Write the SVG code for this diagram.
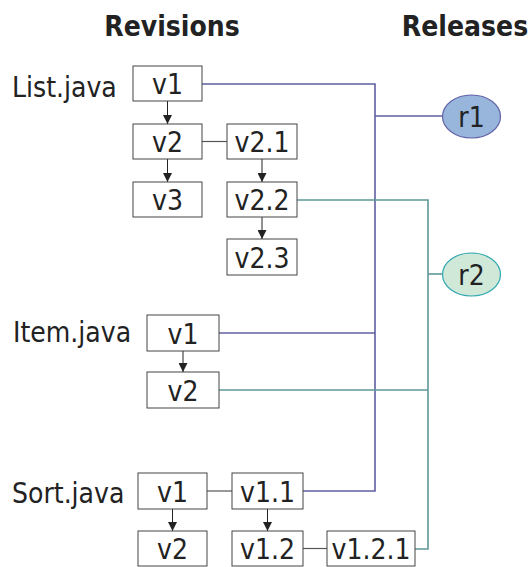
<svg xmlns="http://www.w3.org/2000/svg" width="530" height="567" viewBox="0 0 530 567">
<defs>
<marker id="ah" viewBox="0 0 10 10" refX="10" refY="5" markerWidth="9" markerHeight="9" markerUnits="userSpaceOnUse" orient="auto">
<path d="M0,0 L10,5 L0,10 Z" fill="#222"/>
</marker>
<style>
.box{fill:#fff;stroke:#444;stroke-width:1}
.t{font-family:"DejaVu Sans Condensed","DejaVu Sans",sans-serif;font-stretch:condensed;font-size:28px;fill:#222;text-anchor:middle}
.lbl{font-family:"DejaVu Sans Condensed","DejaVu Sans",sans-serif;font-stretch:condensed;font-size:28px;fill:#222}
.hdr{font-family:"DejaVu Sans Condensed","DejaVu Sans",sans-serif;font-stretch:condensed;font-weight:bold;font-size:28px;fill:#222;text-anchor:middle}
.arr{stroke:#222;stroke-width:1;fill:none;marker-end:url(#ah)}
.gl{stroke:#555;stroke-width:1.2;fill:none}
.pu{stroke:#5f5fa3;stroke-width:1.6;fill:none}
.te{stroke:#5f9898;stroke-width:1.6;fill:none}
</style>
</defs>
<text class="hdr" x="172" y="36">Revisions</text>
<text class="hdr" x="465" y="36">Releases</text>
<text class="lbl" x="12" y="97">List.java</text>
<text class="lbl" x="13" y="342">Item.java</text>
<text class="lbl" x="12" y="503">Sort.java</text>
<g id="connectors">
<polyline class="pu" points="202,84 375,84 375,491 303,491"/>
<line class="pu" x1="219" y1="333" x2="375" y2="333"/>
<line class="pu" x1="375" y1="116" x2="442" y2="116"/>
<polyline class="te" points="297,200 428,200 428,549 415,549"/>
<line class="te" x1="219" y1="390" x2="428" y2="390"/>
<line class="te" x1="428" y1="274" x2="442" y2="274"/>
<line class="gl" x1="202" y1="141.5" x2="227" y2="141.5"/>
<line class="gl" x1="207" y1="491" x2="232" y2="491"/>
<line class="gl" x1="303" y1="548.5" x2="327" y2="548.5"/>
<line class="arr" x1="167.5" y1="101" x2="167.5" y2="124"/>
<line class="arr" x1="167.5" y1="159" x2="167.5" y2="182"/>
<line class="arr" x1="262" y1="159" x2="262" y2="182"/>
<line class="arr" x1="262" y1="217" x2="262" y2="239"/>
<line class="arr" x1="183" y1="351" x2="183" y2="372"/>
<line class="arr" x1="172.5" y1="509" x2="172.5" y2="531"/>
<line class="arr" x1="267.5" y1="509" x2="267.5" y2="531"/>
</g>
<g id="list-v1"><rect class="box" x="133" y="66" width="69" height="35"/><text class="t" x="167.5" y="94">v1</text></g>
<g id="list-v2"><rect class="box" x="133" y="124" width="69" height="35"/><text class="t" x="167.5" y="152">v2</text></g>
<g id="list-v2.1"><rect class="box" x="227" y="124" width="70" height="35"/><text class="t" x="262" y="152">v2.1</text></g>
<g id="list-v3"><rect class="box" x="133" y="182" width="69" height="35"/><text class="t" x="167.5" y="210">v3</text></g>
<g id="list-v2.2"><rect class="box" x="227" y="182" width="70" height="35"/><text class="t" x="262" y="210">v2.2</text></g>
<g id="list-v2.3"><rect class="box" x="227" y="239" width="70" height="36"/><text class="t" x="262" y="267.5">v2.3</text></g>
<g id="item-v1"><rect class="box" x="147" y="315" width="72" height="36"/><text class="t" x="183" y="343.5">v1</text></g>
<g id="item-v2"><rect class="box" x="147" y="372" width="72" height="36"/><text class="t" x="183" y="400.5">v2</text></g>
<g id="sort-v1"><rect class="box" x="138" y="473" width="69" height="36"/><text class="t" x="172.5" y="501.5">v1</text></g>
<g id="sort-v1.1"><rect class="box" x="232" y="473" width="71" height="36"/><text class="t" x="267.5" y="501.5">v1.1</text></g>
<g id="sort-v2"><rect class="box" x="138" y="531" width="69" height="35"/><text class="t" x="172.5" y="559">v2</text></g>
<g id="sort-v1.2"><rect class="box" x="232" y="531" width="71" height="35"/><text class="t" x="267.5" y="559">v1.2</text></g>
<g id="sort-v1.2.1"><rect class="box" x="327" y="531" width="88" height="35"/><text class="t" x="371" y="559">v1.2.1</text></g>
<g id="r1"><ellipse cx="471.5" cy="116.5" rx="29" ry="21.5" fill="#98b5db" stroke="#6262a8" stroke-width="1.2"/><text class="t" x="471.5" y="127">r1</text></g>
<g id="r2"><ellipse cx="471.5" cy="274.5" rx="29" ry="21.5" fill="#d0e8d8" stroke="#2fa8b0" stroke-width="1.2"/><text class="t" x="471.5" y="285">r2</text></g>
</svg>
